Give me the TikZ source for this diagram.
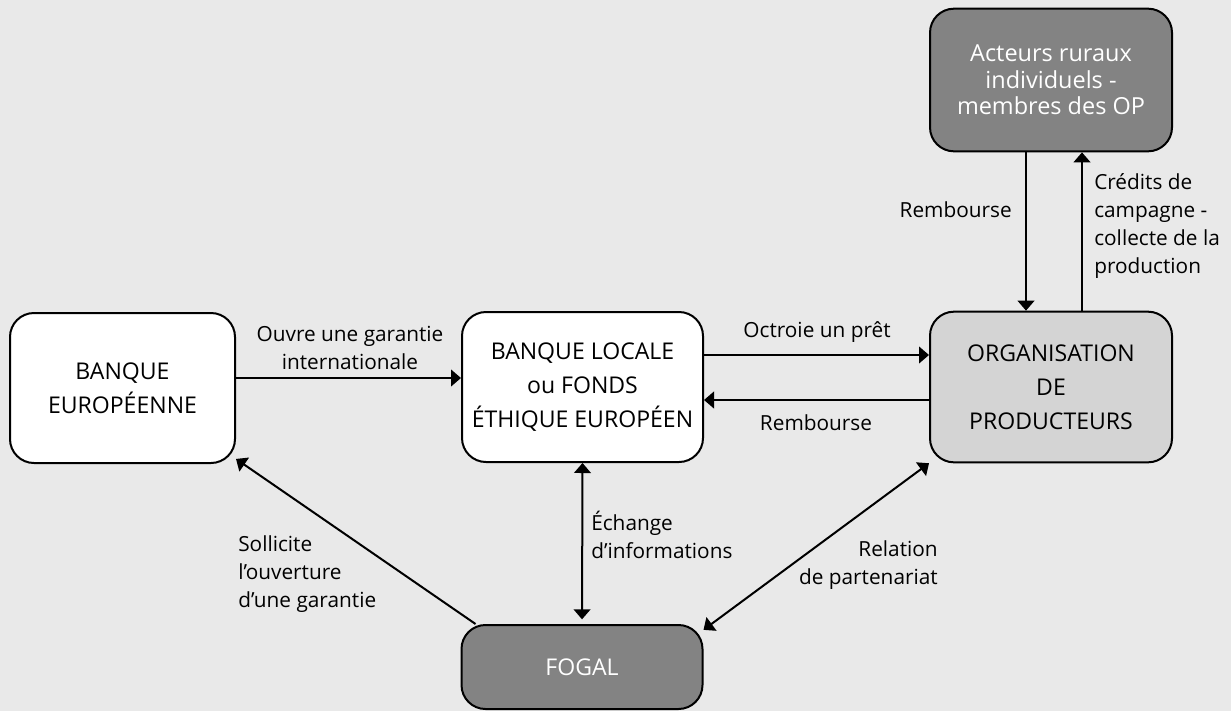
\documentclass[tikz,border=0pt]{standalone}
\usepackage{fontspec}
\setmainfont{Open Sans}
\usetikzlibrary{arrows.meta}
\definecolor{fond}{HTML}{E9E9E9}
\definecolor{grisclair}{HTML}{D4D4D4}
\definecolor{grisfonce}{HTML}{838383}

\begin{document}
\begin{tikzpicture}[x=0.75pt,y=-0.75pt,
  boite/.style={draw,line width=1.5pt,rounded corners=18pt,align=center,inner sep=0pt,
    font=\fontsize{17.3}{25.5}\selectfont},
  fleche/.style={line width=1.5pt,-{Triangle[length=7.5pt,width=12.5pt]}},
  fleches/.style={line width=1.5pt,{Triangle[length=7.5pt,width=12.5pt]}-{Triangle[length=7.5pt,width=12.5pt]}},
  etiq/.style={inner sep=0pt,font=\fontsize{15.6}{21}\selectfont}]
\fill[fond] (0,0) rectangle (1231,711);
\useasboundingbox (0,0) rectangle (1231,711);

% les acteurs
\node[boite,fill=white,minimum width=168.75pt,minimum height=112.5pt] (be) at (122.5,388) {BANQUE\\EUROPÉENNE};
\node[boite,fill=white,minimum width=180.75pt,minimum height=112.5pt] (bl) at (582.5,387) {BANQUE LOCALE\\ou FONDS\\ÉTHIQUE EUROPÉEN};
\node[boite,fill=grisclair,minimum width=181.5pt,minimum height=113pt] (op) at (1051,387) {ORGANISATION\\DE\\PRODUCTEURS};
\node[boite,fill=grisfonce,text=white,minimum width=181.5pt,minimum height=107pt,
  font=\fontsize{17.6}{20}\selectfont] (acteurs) at (1051,80) {Acteurs ruraux\\individuels -\\membres des OP};
\node[boite,fill=grisfonce,text=white,minimum width=180.75pt,minimum height=63pt] (fogal) at (582,667) {FOGAL};

% les flux
\draw[fleche] ([yshift=7.5pt]be.east) -- ([yshift=7.5pt]be.east -| bl.west);
\draw[fleche] ([yshift=24pt]bl.east) -- ([yshift=24pt]bl.east -| op.west);
\draw[fleche] ([yshift=-9.75pt]op.west) -- ([yshift=-9.75pt]op.west -| bl.east);
\draw[fleche] ([xshift=-18.75pt]acteurs.south) -- ([xshift=-18.75pt]op.north);
\draw[fleche] ([xshift=23.25pt]op.north) -- ([xshift=23.25pt]acteurs.south);
\draw[fleches,shorten >=3.5pt] (bl.south) -- (fogal.north);
\draw[fleche] (fogal.158) -- (be.-32);
\draw[fleches] (fogal.17) -- (op.-148);

% les textes
\node[etiq,align=center] (t-ouvre) at (350,348) {Ouvre une garantie\\internationale};
\node[etiq] (t-octroie) at (817,332) {Octroie un prêt};
\node[etiq] (t-rembourse) at (816,423) {Rembourse};
\node[etiq,anchor=east] (t-rembourse2) at (1012,210) {Rembourse};
\node[etiq,anchor=west,align=left] (t-credits) at (1094,226) {Crédits de\\campagne -\\collecte de la\\production};
\node[etiq,anchor=west,align=left] (t-echange) at (591,535) {Échange\\d’informations};
\node[etiq,anchor=west,align=left] (t-sollicite) at (238,574) {Sollicite\\l’ouverture\\d’une garantie};
\node[etiq,anchor=east,align=right] (t-relation) at (938,565) {Relation\\de partenariat};
\end{tikzpicture}
\end{document}
